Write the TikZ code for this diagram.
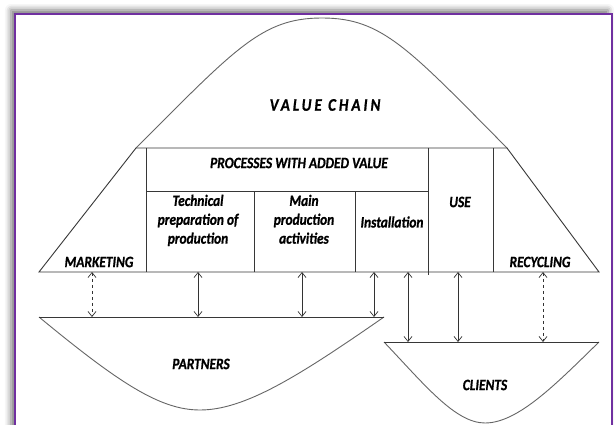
\documentclass[tikz,border=0pt]{standalone}
\usepackage{fontspec}
\setmainfont{Carlito}
\usepackage{graphicx}
\usetikzlibrary{arrows.meta,shadows.blur}
\definecolor{framepurple}{RGB}{112,48,160}
\definecolor{inkgray}{RGB}{55,55,55}
% labels are set slightly taller than wide
\newcommand\vstretch[1]{\scalebox{1}[1.18]{#1}}
\begin{document}
\begin{tikzpicture}[x=1pt,y=-1pt,
  outline/.style={draw=inkgray, line width=0.9pt},
  curve/.style={draw=black!60, line width=0.9pt},
  lbl/.style={inner sep=0pt, font=\fontsize{13.4}{16}\selectfont\bfseries\itshape\addfontfeatures{FakeBold=1}},
  link/.style={draw=black!80, line width=0.7pt,
    {Straight Barb[length=5pt,width=8pt]}-{Straight Barb[length=5pt,width=8pt]}},
  optlink/.style={link, dashed}]
\useasboundingbox (0,0) rectangle (616,425);
\clip (0,0) rectangle (616,425);

% page frame with soft shadow
\draw[framepurple, line width=1.8pt, fill=white,
  blur shadow={shadow xshift=-4pt, shadow yshift=4pt, shadow blur radius=6pt, shadow opacity=55}]
  (15,14) rectangle (612,470);

% value chain hump
\draw[curve] (136,148) .. controls (236,48) and (262,18) .. (322,18)
  .. controls (382,18) and (408,48) .. (507,148);

% trapezoid band
\draw[outline] (136,148) -- (507,148) -- (599,272) -- (39,272) -- cycle;
\draw[outline] (146,148) -- (146,272);
\draw[outline] (428,148) -- (428,275);
\draw[outline] (493,148) -- (493,272);
\draw[outline] (146,191) -- (428,191);
\draw[outline] (254,191) -- (254,272);
\draw[outline] (355,191) -- (355,272);

% partners bowl
\draw[curve] (384,317) .. controls (299,376) and (245,410) .. (200,410)
  .. controls (160,410) and (119,383) .. (39,317);
\draw[outline] (39,317) -- (384,317);

% clients bowl
\draw[curve] (384,342) .. controls (424,384) and (455,423) .. (485,423)
  .. controls (518,423) and (556,384) .. (599,342);
\draw[outline] (384,342) -- (599,342);

% labels
\node[lbl] (vc) at (325,105) {\vstretch{\fontsize{15}{18}\selectfont\addfontfeatures{LetterSpace=20}VALUE CHAIN}};
\node[lbl] (pav) at (299,163) {\vstretch{PROCESSES WITH ADDED VALUE}};
\node[lbl] (mkt) at (99,262) {\vstretch{MARKETING}};
\node[lbl] (tech) at (198,221) {\vstretch{\begin{tabular}{@{}c@{}}Technical\\preparation of\\production\end{tabular}}};
\node[lbl] (main) at (304,221) {\vstretch{\begin{tabular}{@{}c@{}}Main\\production\\activities\end{tabular}}};
\node[lbl] (inst) at (392,222) {\vstretch{Installation}};
\node[lbl] (use) at (460,202) {\vstretch{USE}};
\node[lbl] (rec) at (540,262) {\vstretch{RECYCLING}};
\node[lbl] (prt) at (201,364) {\vstretch{PARTNERS}};
\node[lbl] (cli) at (485,385) {\vstretch{CLIENTS}};

% link end points on the band base and on the bowl rims
\coordinate (b1) at (92,272);  \coordinate (p1) at (92,317);
\coordinate (b2) at (198,272); \coordinate (p2) at (198,317);
\coordinate (b3) at (302,272); \coordinate (p3) at (302,317);
\coordinate (b4) at (374,272); \coordinate (p4) at (374,317);
\coordinate (b5) at (408,272); \coordinate (c5) at (408,342);
\coordinate (b6) at (458,272); \coordinate (c6) at (458,342);
\coordinate (b7) at (543,272); \coordinate (c7) at (543,342);

\draw[optlink] (b1) -- (p1);
\draw[link] (b2) -- (p2);
\draw[link] (b3) -- (p3);
\draw[link] (b4) -- (p4);
\draw[link] (b5) -- (c5);
\draw[link] (b6) -- (c6);
\draw[optlink] (b7) -- (c7);
\end{tikzpicture}
\end{document}
